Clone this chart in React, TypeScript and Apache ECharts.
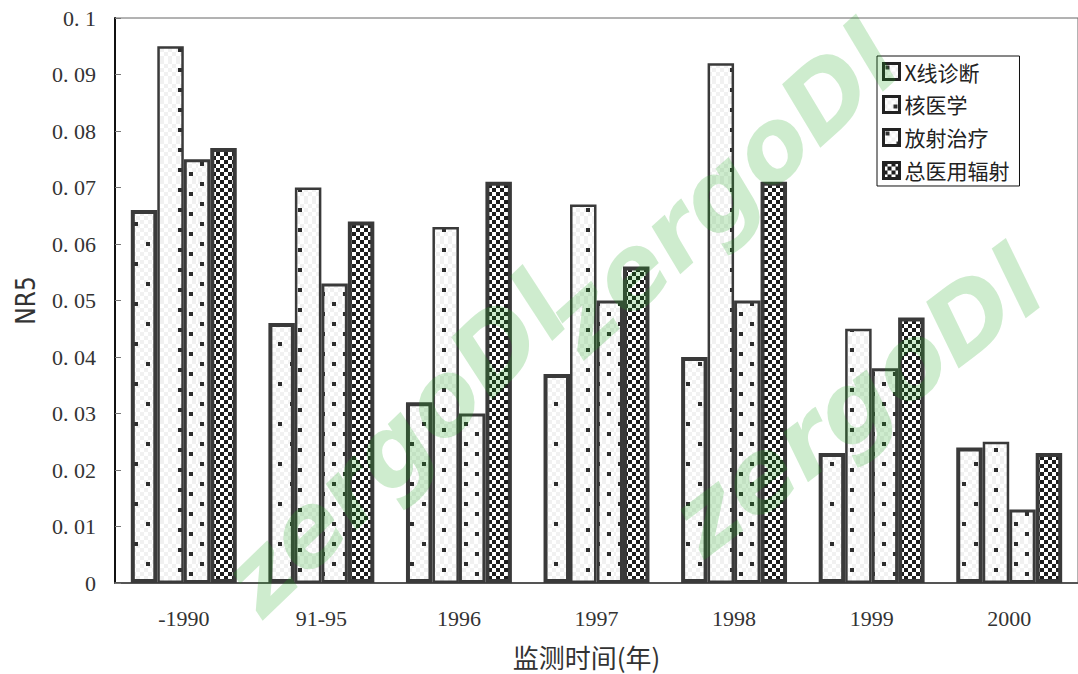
import React, { useEffect, useRef } from "react";
import * as echarts from "echarts";

// Monitoring periods and NR5 values per source of medical exposure
const categories = ["-1990", "91-95", "1996", "1997", "1998", "1999", "2000"];
const seriesNames = ["X线诊断", "核医学", "放射治疗", "总医用辐射"];
const xRayDiagnosis = [0.066, 0.046, 0.032, 0.037, 0.04, 0.023, 0.024];
const nuclearMedicine = [0.095, 0.07, 0.063, 0.067, 0.092, 0.045, 0.025];
const radiotherapy = [0.075, 0.053, 0.03, 0.05, 0.05, 0.038, 0.013];
const totalMedical = [0.077, 0.064, 0.071, 0.056, 0.071, 0.047, 0.023];
const yTicks = { min: 0, max: 0.1, interval: 0.01 };
const watermarkText = "zergoDl";

type Painter = (ctx: CanvasRenderingContext2D) => void;

function makePattern(w: number, h: number, paint: Painter) {
  const c = document.createElement("canvas");
  c.width = w;
  c.height = h;
  const ctx = c.getContext("2d") as CanvasRenderingContext2D;
  ctx.fillStyle = "#ffffff";
  ctx.fillRect(0, 0, w, h);
  paint(ctx);
  return { image: c, repeat: "repeat", imageWidth: w, imageHeight: h } as any;
}

// faint light-grey checker used under the dotted fills
function faintChecker(ctx: CanvasRenderingContext2D, w: number, h: number) {
  ctx.fillStyle = "#f1f1f1";
  for (let y = 0; y < h; y += 4) {
    for (let x = 0; x < w; x += 4) {
      if (((x + y) / 4) % 2 === 0) ctx.fillRect(x, y, 4, 4);
    }
  }
}

function dot(ctx: CanvasRenderingContext2D, x: number, y: number) {
  ctx.fillStyle = "#2e2e2e";
  ctx.fillRect(x, y, 4, 4);
}

export default function App() {
  const ref = useRef<HTMLDivElement>(null);

  useEffect(() => {
    if (!ref.current) return;
    const chart = echarts.init(ref.current, null, { renderer: "svg" });

    const sparseDots = makePattern(24, 40, (ctx) => {
      faintChecker(ctx, 24, 40);
      dot(ctx, 2, 2);
      dot(ctx, 14, 22);
    });
    const columnDots = makePattern(24, 20, (ctx) => {
      faintChecker(ctx, 24, 20);
      dot(ctx, 10, 8);
    });
    const staggeredDots = makePattern(22, 20, (ctx) => {
      faintChecker(ctx, 22, 20);
      dot(ctx, 2, 2);
      dot(ctx, 13, 12);
    });
    const checker = makePattern(8, 8, (ctx) => {
      ctx.fillStyle = "#1e1e1e";
      ctx.fillRect(0, 0, 4, 4);
      ctx.fillRect(4, 4, 4, 4);
    });

    const fills = [sparseDots, columnDots, staggeredDots, checker];
    const borders = [4, 2.5, 3, 4];
    const values = [xRayDiagnosis, nuclearMedicine, radiotherapy, totalMedical];

    const serif = "'Liberation Serif', 'DejaVu Serif', serif";
    const cjk = "'Noto Sans CJK SC', 'Noto Sans', sans-serif";

    // watermark stamps: centre x, centre y, angle in degrees
    const marks = [
      [395, 445, 44],
      [722, 190, 42],
      [857, 402, 37],
    ];

    chart.setOption({
      animation: false,
      backgroundColor: "#ffffff",
      grid: {
        left: 115,
        right: -8,
        top: 18,
        bottom: 87,
        show: true,
        borderColor: "#666",
        borderWidth: 1,
        backgroundColor: "transparent",
      },
      legend: {
        orient: "vertical",
        left: 877,
        top: 56,
        padding: [5, 10, 5, 5],
        itemGap: 12,
        itemWidth: 16,
        itemHeight: 16,
        icon: "rect",
        itemStyle: { borderWidth: 3, borderColor: "#222" },
        borderColor: "#111",
        borderWidth: 1,
        backgroundColor: "#ffffff",
        textStyle: { fontFamily: cjk, fontSize: 21, color: "#222" },
        data: seriesNames,
      },
      xAxis: {
        type: "category",
        data: categories,
        name: "监测时间(年)",
        nameLocation: "middle",
        nameGap: 60,
        nameTextStyle: {
          fontFamily: cjk,
          fontSize: 26,
          color: "#333",
          padding: [0, 20, 0, 0],
        },
        axisLine: { lineStyle: { color: "#555", width: 2 } },
        axisTick: { inside: true, length: 8, lineStyle: { color: "#888" } },
        axisLabel: { fontFamily: serif, fontSize: 22, color: "#333", margin: 24 },
      },
      yAxis: {
        type: "value",
        min: yTicks.min,
        max: yTicks.max,
        interval: yTicks.interval,
        name: "NR5",
        nameLocation: "middle",
        nameGap: 76,
        nameTextStyle: {
          fontFamily: "'Liberation Sans Narrow', 'DejaVu Sans Condensed', sans-serif",
          fontSize: 26,
          color: "#333",
        },
        splitLine: { show: false },
        axisLine: { show: true, lineStyle: { color: "#111", width: 2 } },
        axisTick: { show: true, inside: true, length: 6, lineStyle: { color: "#777" } },
        axisLabel: {
          fontFamily: serif,
          fontSize: 22,
          color: "#333",
          margin: 19,
          formatter: (v: number) =>
            v === 0 ? "0" : String(+v.toFixed(2)).replace(".", ". "),
        },
      },
      series: seriesNames.map((name, i) => ({
        name,
        type: "bar",
        data: values[i],
        barGap: "0%",
        barCategoryGap: "23%",
        itemStyle: {
          color: fills[i],
          borderColor: "#3a3a3a",
          borderWidth: borders[i],
        },
      })),
      graphic: marks.map(([x, y, deg]) => ({
        type: "text",
        x,
        y,
        rotation: (deg * Math.PI) / 180,
        z: 100,
        silent: true,
        style: {
          text: watermarkText,
          fontFamily: "'DejaVu Sans', sans-serif",
          fontWeight: "bold",
          fontStyle: "italic",
          fontSize: 100,
          fill: "#22aa22",
          opacity: 0.22,
          align: "center",
          verticalAlign: "middle",
        },
      })),
    });

    return () => chart.dispose();
  }, []);

  return (
    <div
      ref={ref}
      style={{ position: "fixed", left: 0, top: 0, width: 1078, height: 674 }}
    />
  );
}
